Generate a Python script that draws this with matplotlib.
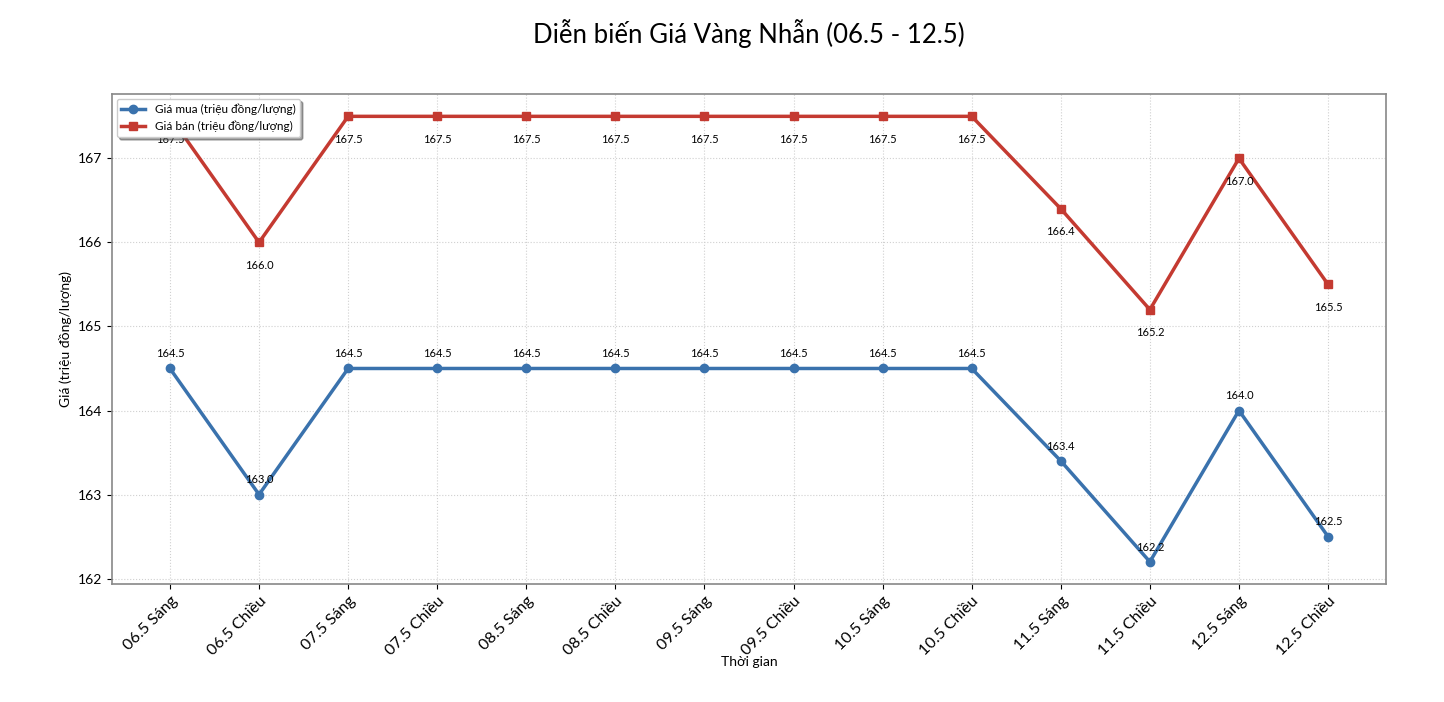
import matplotlib
matplotlib.use("Agg")
import matplotlib.pyplot as plt

categories = ["06.5 Sáng", "06.5 Chiều", "07.5 Sáng", "07.5 Chiều", "08.5 Sáng", "08.5 Chiều",
              "09.5 Sáng", "09.5 Chiều", "10.5 Sáng", "10.5 Chiều", "11.5 Sáng", "11.5 Chiều",
              "12.5 Sáng", "12.5 Chiều"]
buy = [164.5, 163.0, 164.5, 164.5, 164.5, 164.5, 164.5, 164.5, 164.5, 164.5, 163.4, 162.2, 164.0, 162.5]
sell = [167.5, 166.0, 167.5, 167.5, 167.5, 167.5, 167.5, 167.5, 167.5, 167.5, 166.4, 165.2, 167.0, 165.5]

plt.rcParams['font.family'] = ['Lato', 'DejaVu Sans']

fig = plt.figure(figsize=(14.44, 7.02), dpi=100)
ax = fig.add_axes([0.0776, 0.168, 0.8822, 0.698])

x = list(range(len(categories)))
blue = "#3a72ad"
red = "#c43a31"
ax.plot(x, buy, color=blue, marker="o", markersize=6, linewidth=2.5, label="Giá mua (triệu đồng/lượng)")
ax.plot(x, sell, color=red, marker="s", markersize=6, linewidth=2.5, label="Giá bán (triệu đồng/lượng)")

for xi, v in zip(x, buy):
    ax.annotate(f"{v:.1f}", (xi, v), textcoords="offset points", xytext=(0, 8), ha="center", fontsize=8)
for xi, v in zip(x, sell):
    ax.annotate(f"{v:.1f}", (xi, v), textcoords="offset points", xytext=(0, -19), ha="center", fontsize=8)

ax.set_xticks(x)
ax.set_xticklabels(categories, rotation=45, ha="right", rotation_mode="anchor", fontsize=11.5)
ax.tick_params(axis="y", labelsize=10)
ax.set_xlabel("Thời gian", fontsize=10, labelpad=-1)
ax.set_ylabel("Giá (triệu đồng/lượng)", fontsize=10)
ax.grid(True, linestyle=":", color="#d0d0d0", linewidth=0.8)
for s in ax.spines.values():
    s.set_color("#888888")
    s.set_linewidth(1.2)

ax.legend(loc="upper left", fontsize=8.5, shadow=True, fancybox=True, framealpha=1, borderaxespad=0.4)
ax.set_title("Diễn biến Giá Vàng Nhẫn (06.5 - 12.5)", fontsize=18.5, pad=37)

fig.savefig("out.png", dpi=100)
